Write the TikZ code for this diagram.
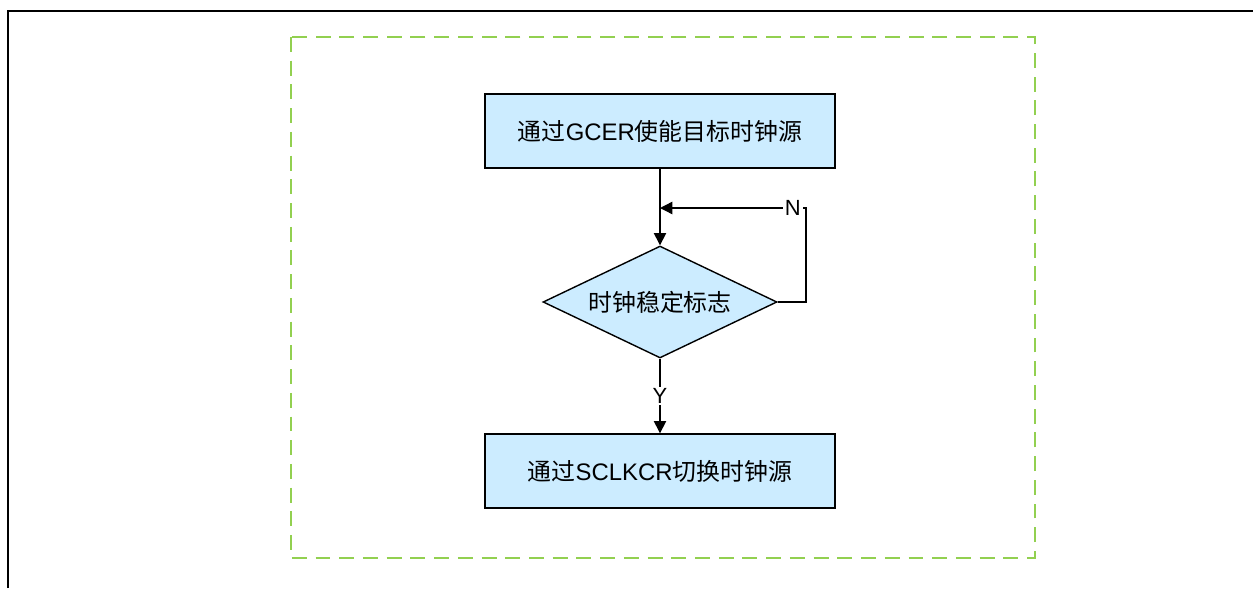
\documentclass[tikz,border=0pt]{standalone}
\usepackage{fontspec}
\setmainfont{Liberation Sans}
\newfontfamily\cjk{Noto Sans CJK SC}
\usetikzlibrary{arrows.meta,shapes.geometric}
\definecolor{boxblue}{RGB}{204,236,255}
\definecolor{framegreen}{RGB}{146,208,80}
\tikzset{
  stepbox/.style={draw, line width=0.8pt, fill=boxblue, minimum width=7cm, minimum height=1.48cm, font=\fontsize{13.6}{16}\selectfont},
  checkbox/.style={draw, line width=0.8pt, fill=boxblue, diamond, aspect=2.1, inner sep=0pt, minimum width=4.68cm, minimum height=2.24cm, font=\fontsize{13.6}{16}\selectfont},
  flow/.style={line width=0.8pt, -{Triangle[length=7pt,width=7pt]}},
  tag/.style={fill=white, inner sep=1pt, font=\fontsize{12.5}{14}\selectfont}
}
\begin{document}
\begin{tikzpicture}[x=0.02cm, y=-0.02cm]
				%%%%% START %%%%%
				\useasboundingbox (0,0) rectangle (1253,588);
				\draw[line width=1.5pt] (8,588) -- (8,11) -- (1253,11);
				\draw[framegreen, line width=1.1pt, dash pattern=on 8.5pt off 5pt] (291,37) rectangle (1035,558);
				
				\node[stepbox] (enable) at (660,131) {{\cjk 通过}GCER{\cjk 使能目标时钟源}};
				\node[checkbox] (check) at (660,302) {\cjk 时钟稳定标志};
				\node[stepbox] (switch) at (660,471) {{\cjk 通过}SCLKCR{\cjk 切换时钟源}};
				
				\coordinate (join) at (660,208);
				\coordinate (loopc) at (806,208);
				
				\draw[flow] (enable) -- (check);
				\draw[flow] (check.east) -- (check.east -| loopc) -- (loopc) -- node[tag, pos=0.09] {N} (join);
				\draw[flow] (check) -- node[tag] {Y} (switch);
				%%%%% END %%%%%
\end{tikzpicture}
\end{document}
